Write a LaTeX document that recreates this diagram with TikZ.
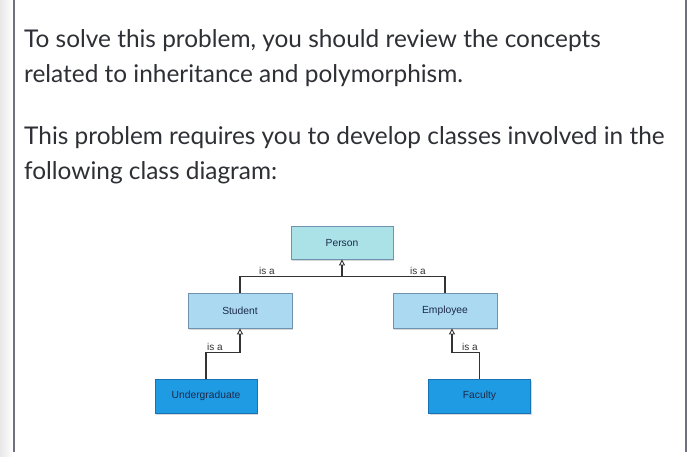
\documentclass[tikz,border=0pt]{standalone}
\usepackage{fontspec}
\setmainfont{Lato}
\newfontfamily\boxfont{Liberation Sans}
\usetikzlibrary{arrows.meta,positioning,shadows,calc}
\definecolor{ink}{HTML}{2E3035}
\definecolor{frame}{HTML}{6E717B}
\definecolor{line}{HTML}{333333}
\definecolor{boxtext}{HTML}{1C2A48}
\definecolor{cyanfill}{HTML}{ABE2E8}
\definecolor{lightfill}{HTML}{AAD9F1}
\definecolor{lightdraw}{HTML}{6F93AE}
\definecolor{deepfill}{HTML}{1F9BE4}
\definecolor{deepdraw}{HTML}{1872B4}
\tikzset{
  every picture/.style={line cap=butt, line join=miter},
  para/.style={anchor=base west, inner sep=0pt, text=ink,
    font=\fontsize{24.4}{35}\selectfont, align=left},
  cls/.style={draw=lightdraw, fill=lightfill, line width=0.8pt,
    minimum width=104pt, minimum height=35pt, inner sep=0pt, text=boxtext,
    font=\boxfont\fontsize{10.3}{12}\selectfont,
    drop shadow={opacity=0.3, shadow xshift=1.4pt, shadow yshift=-1.8pt}},
  topcls/.style={cls, fill=cyanfill, minimum width=102pt, minimum height=33pt},
  leafcls/.style={cls, draw=deepdraw, fill=deepfill, minimum width=102pt,
    minimum height=34pt},
  isa/.style={draw=line, line width=1.2pt,
    -{Triangle[open, length=6pt, width=6pt, line width=0.9pt]}},
  link/.style={draw=line, line width=1.2pt},
  isalbl/.style={font=\boxfont\fontsize{10}{11}\selectfont, text=line,
    inner sep=1pt},
}
\begin{document}
\begin{tikzpicture}[x=1pt, y=-1pt]
  \useasboundingbox (0,0) rectangle (700,456);
  % page edge and frame
  \shade[left color=black!9, right color=white] (0,0) rectangle (13,456);
  \fill[white] (14,0) rectangle (686,456);
  \draw[frame, line width=1.5pt] (14,0) -- (14,452);
  \draw[frame, line width=1.5pt] (686,0) -- (686,452);

  % ======================= text =======================
  \node[para] (p1a) at (24,47) {To solve this problem, you should review the concepts};
  \node[para] (p1b) at (24,82) {related to inheritance and polymorphism.};
  \node[para] (p2a) at (24,144) {This problem requires you to develop classes involved in the};
  \node[para] (p2b) at (24,179) {following class diagram:};

  % ======================= classes =======================
  \node[topcls] (person) at (342,242.5) {Person};
  \node[cls] (student) at (240,310.5) {Student};
  \node[cls] (employee) at (445,310.5) {Employee};
  \node[leafcls] (under) at (206,396) {Undergraduate};
  \node[leafcls] (faculty) at (479.5,396) {Faculty};

  % ======================= is-a links =======================
  \coordinate (bar) at ($(person.south)+(0,17)$);
  \draw[link] (student.north) |- (bar) -| (employee.north);
  \draw[isa] (bar) -- (person.south);
  \node[isalbl, anchor=south] (l1) at (267,276) {is a};
  \node[isalbl, anchor=south] (l2) at (418,276) {is a};

  \coordinate (s1) at ($(under.north)+(0,-26)$);
  \draw[isa] (under.north) -- (s1) -| (student.south);
  \node[isalbl, anchor=south] (l3) at (215,352) {is a};

  \coordinate (e1) at ($(faculty.north)+(0,-26)$);
  \draw[isa] (faculty.north) -- (e1) -| ($(employee.south)+(7,0)$);
  \node[isalbl, anchor=south] (l4) at (470,352) {is a};
\end{tikzpicture}
\end{document}
